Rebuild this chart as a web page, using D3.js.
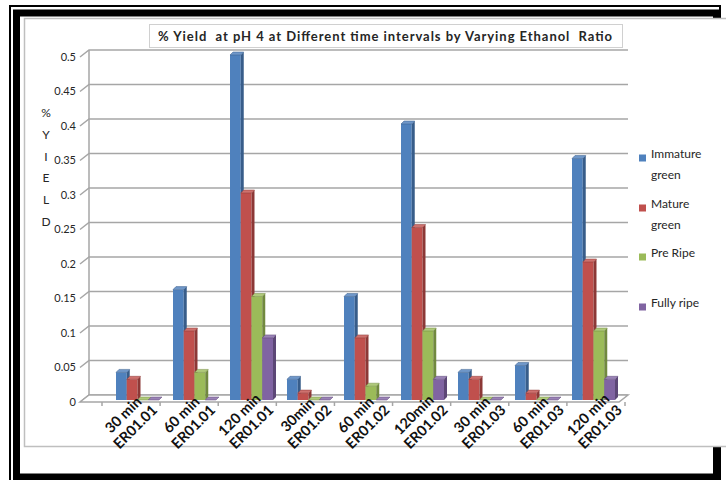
<!DOCTYPE html>
<html>
<head>
<meta charset="utf-8">
<script src="https://cdn.jsdelivr.net/npm/d3@7"></script>
<style>
  html, body { margin: 0; padding: 0; background: #fff; }
  svg { display: block; }
  text { white-space: pre; }
</style>
</head>
<body>
<svg id="chart" width="726" height="480"></svg>
<script>
// Category labels (two lines each: time / ethanol ratio)
const times  = ["30 min", "60 min", "120 min", "30min", "60 min", "120min", "30 min", "60 min", "120 min"];
const ratios = ["ER01.01", "ER01.01", "ER01.01", "ER01.02", "ER01.02", "ER01.02", "ER01.03", "ER01.03", "ER01.03"];

// Series
const seriesNames = ["Immature green", "Mature green", "Pre Ripe", "Fully ripe"];
const immatureGreen = [0.04, 0.16, 0.50, 0.03, 0.15, 0.40, 0.04, 0.05, 0.35];
const matureGreen   = [0.03, 0.10, 0.30, 0.01, 0.09, 0.25, 0.03, 0.01, 0.20];
const preRipe       = [0.00, 0.04, 0.15, 0.00, 0.02, 0.10, 0.00, 0.00, 0.10];
const fullyRipe     = [0.00, 0.00, 0.09, 0.00, 0.00, 0.03, 0.00, 0.00, 0.03];

// Axis ticks
const yTicks = [0, 0.05, 0.1, 0.15, 0.2, 0.25, 0.3, 0.35, 0.4, 0.45, 0.5];
const yTickLabels = ["0", "0.05", "0.1", "0.15", "0.2", "0.25", "0.3", "0.35", "0.4", "0.45", "0.5"];

const title = "% Yield  at pH 4 at Different time intervals by Varying Ethanol  Ratio";
const yTitle = ["%", "Y", "I", "E", "L", "D"];
const legendLines = [["Immature", "green"], ["Mature", "green"], ["Pre Ripe"], ["Fully ripe"]];

const allSeries = [immatureGreen, matureGreen, preRipe, fullyRipe];
const frontColors = ["#4F81BD", "#C0504D", "#9BBB59", "#8064A2"];
const sideColors  = ["#385D8A", "#8C3836", "#71893F", "#5C4776"];
const topColors   = ["#6F97C9", "#CE716E", "#AFC97B", "#9A83B6"];

const svg = d3.select("#chart");
const font = "Lato, 'Open Sans', 'Liberation Sans', sans-serif";

// ---- document frame (double border) ----
svg.append("rect").attr("x", 0).attr("y", 0).attr("width", 726).attr("height", 480).attr("fill", "#fff");
svg.append("rect").attr("x", 10).attr("y", 6).attr("width", 710).attr("height", 480).attr("fill", "none")
   .attr("stroke", "#000").attr("stroke-width", 2);
svg.append("rect").attr("x", 16.5).attr("y", 13).attr("width", 700).attr("height", 464).attr("fill", "none")
   .attr("stroke", "#000").attr("stroke-width", 7);

// ---- chart area ----
svg.append("rect").attr("x", 24.5).attr("y", 18.5).attr("width", 720).attr("height", 428)
   .attr("fill", "#fff").attr("stroke", "#BFBFBF").attr("stroke-width", 1.5);

// ---- scales ----
const y = d3.scaleLinear().domain([0, 0.5]).range([402, 57]);
const idx = d3.range(times.length);
// bars stand in the middle of the floor depth
const x = d3.scaleBand().domain(idx).range([109, 622]).paddingInner(0.2456).paddingOuter(0.1228);
const xs = d3.scaleBand().domain(d3.range(seriesNames.length)).range([0, x.bandwidth()]);
// category axis along the front edge of the floor
const xAxisScale = d3.scaleBand().domain(idx).range([102, 625]);

// 3D depth offsets
const axisX = 80, depthX = 9, depthY = 7, backRight = 628;
const grid = svg.append("g").attr("fill", "none").attr("stroke", "#A6A6A6").attr("stroke-width", 1.5);

// back-wall gridlines with the slanted side-wall segment
yTicks.forEach(t => {
  const yy = y(t);
  grid.append("path").attr("d", `M${axisX},${yy}L${axisX + depthX},${yy - depthY}L${backRight},${yy - depthY}`);
});
grid.append("line").attr("x1", axisX + depthX).attr("x2", axisX + depthX)
    .attr("y1", y(0) - depthY).attr("y2", y(0.5) - depthY);

// floor
grid.append("path")
    .attr("d", `M${axisX},${y(0)}L${axisX + depthX},${y(0) - depthY}L${backRight},${y(0) - depthY}L${backRight - depthX},${y(0)}Z`)
    .attr("fill", "#fff");
// category ticks on the front edge of the floor
idx.concat([times.length]).forEach(i => {
  const xx = i < times.length ? xAxisScale(i) : xAxisScale.range()[1];
  grid.append("line").attr("x1", xx).attr("x2", xx).attr("y1", y(0)).attr("y2", y(0) + 4);
});

// y tick labels
svg.append("g").selectAll("text").data(yTicks).join("text")
   .attr("x", axisX - 4).attr("y", d => y(d)).attr("dy", "0.35em")
   .attr("text-anchor", "end").attr("font-family", font).attr("font-size", 11).attr("fill", "#262626")
   .text((d, i) => yTickLabels[i]);

// y title, stacked letters
svg.append("g").selectAll("text").data(yTitle).join("text")
   .attr("x", 46).attr("y", (d, i) => 117 + i * 21.8)
   .attr("text-anchor", "middle").attr("font-family", font).attr("font-size", 12).attr("fill", "#262626")
   .text(d => d);

// ---- 3D bars ----
const d = 3, baseLift = 2;
const bars = svg.append("g");
idx.forEach(ci => {
  allSeries.forEach((vals, si) => {
    const v = vals[ci];
    const x0 = x(ci) + xs(si), w = xs.bandwidth();
    const top = y(v) - baseLift, base = y(0) - baseLift;
    const g = bars.append("g");
    if (v > 0) {
      g.append("rect").attr("x", x0).attr("y", top).attr("width", w).attr("height", base - top)
       .attr("fill", frontColors[si]);
      g.append("path").attr("d", `M${x0 + w},${top}L${x0 + w + d},${top - d}L${x0 + w + d},${base - d}L${x0 + w},${base}Z`)
       .attr("fill", sideColors[si]);
    }
    g.append("path").attr("d", `M${x0},${top}L${x0 + d},${top - d}L${x0 + w + d},${top - d}L${x0 + w},${top}Z`)
     .attr("fill", topColors[si]).attr("stroke", sideColors[si]).attr("stroke-width", 0.5);
  });
});

// ---- category labels, rotated; the two lines are centred on each other
// and the block ends at the tick to the right of its category ----
const xl = svg.append("g").attr("font-family", font).attr("font-size", 14.5).attr("font-weight", "bold").attr("fill", "#111");
idx.forEach(ci => {
  const ax = xAxisScale(ci) + xAxisScale.bandwidth() - 2;
  const t = xl.append("text").attr("transform", `translate(${ax},${y(0) + 9}) rotate(-45)`).attr("text-anchor", "middle");
  const l1 = t.append("tspan").attr("y", -17).text(times[ci]);
  const l2 = t.append("tspan").attr("y", 0).text(ratios[ci]);
  const wMax = Math.max(l1.node().getComputedTextLength(), l2.node().getComputedTextLength());
  l1.attr("x", -wMax / 2);
  l2.attr("x", -wMax / 2);
});

// ---- title box ----
svg.append("rect").attr("x", 149.5).attr("y", 24.5).attr("width", 473).attr("height", 23)
   .attr("fill", "#fff").attr("stroke", "#D0D0D0").attr("stroke-width", 1);
svg.append("text").attr("x", 158).attr("y", 41)
   .attr("textLength", 454).attr("lengthAdjust", "spacing")
   .attr("font-family", font).attr("font-size", 13).attr("font-weight", "bold").attr("fill", "#262626")
   .text(title);

// ---- legend ----
const legendY = [158, 208, 257, 307];
const lg = svg.append("g").attr("font-family", font).attr("font-size", 12).attr("fill", "#262626");
seriesNames.forEach((name, i) => {
  lg.append("rect").attr("x", 639).attr("y", legendY[i] - 3.5).attr("width", 7).attr("height", 7).attr("fill", frontColors[i]);
  const t = lg.append("text").attr("x", 651).attr("y", legendY[i]).attr("dy", "0.35em");
  legendLines[i].forEach((ln, j) => t.append("tspan").attr("x", 651).attr("dy", j === 0 ? 0 : 21).text(ln));
});
</script>
</body>
</html>
